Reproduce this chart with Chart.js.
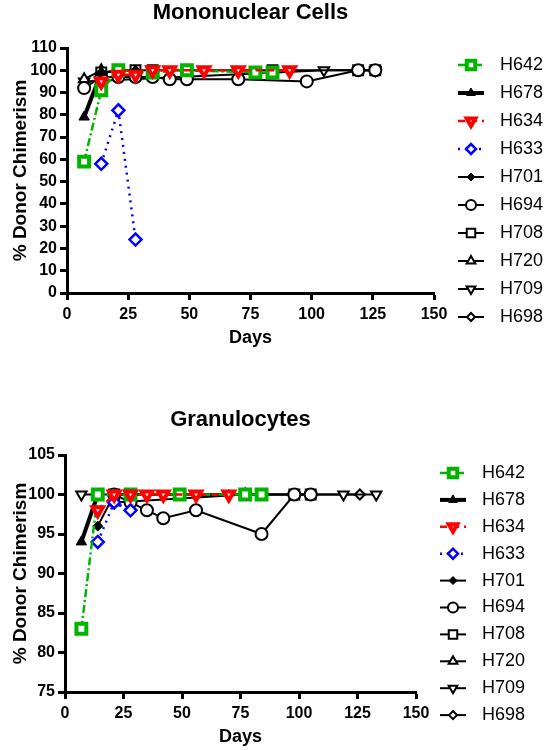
<!DOCTYPE html>
<html>
<head>
<meta charset="utf-8">
<script src="https://cdn.jsdelivr.net/npm/chart.js@4/dist/chart.umd.min.js"></script>
<style>
  body { margin: 0; background: #fff; }
  canvas { display: block; }
</style>
</head>
<body>
<canvas id="mncChart" width="547" height="375"></canvas>
<canvas id="granChart" width="547" height="375"></canvas>
<script>
// Data: each point is [day, % donor chimerism]
const seriesNames = ['H642', 'H678', 'H634', 'H633', 'H701', 'H694', 'H708', 'H720', 'H709', 'H698'];
const xTicks = [0, 25, 50, 75, 100, 125, 150];
const mncYTicks = [0, 10, 20, 30, 40, 50, 60, 70, 80, 90, 100, 110];
const granYTicks = [75, 80, 85, 90, 95, 100, 105];

// Mononuclear cells
const mncH642 = [[7, 59], [14, 91], [21, 100], [35, 99], [49, 100], [77, 99], [84, 99]];
const mncH678 = [[7, 79], [14, 99]];
const mncH634 = [[14, 95], [21, 98], [28, 98], [35, 100], [42, 100], [56, 100], [70, 100], [91, 100]];
const mncH633 = [[14, 58], [21, 82], [28, 24]];
const mncH701 = [[14, 99], [21, 100], [28, 100]];
const mncH694 = [[7, 92], [14, 97], [21, 97], [28, 97], [35, 97], [42, 96], [49, 96], [70, 96], [98, 95], [119, 100], [126, 100]];
const mncH708 = [[14, 99], [28, 100], [35, 100], [49, 100], [84, 100], [119, 100], [126, 100]];
const mncH720 = [[7, 96], [14, 100]];
const mncH709 = [[7, 95], [105, 100], [126, 100]];
const mncH698 = [[119, 100], [126, 100]];

// Granulocytes
const granH642 = [[7, 83], [14, 100], [28, 100], [49, 100], [77, 100], [84, 100]];
const granH678 = [[7, 94], [14, 100]];
const granH634 = [[14, 98], [21, 100], [28, 100], [35, 100], [42, 100], [56, 100], [70, 100]];
const granH633 = [[14, 94], [21, 99], [28, 98]];
const granH701 = [[14, 96], [21, 100], [70, 100]];
const granH694 = [[21, 100], [28, 99], [35, 98], [42, 97], [56, 98], [84, 95], [98, 100], [105, 100]];
const granH708 = [[21, 100], [28, 100], [49, 100], [98, 100], [105, 100]];
const granH720 = [[21, 99], [77, 100]];
const granH709 = [[7, 100], [119, 100], [133, 100]];
const granH698 = [[28, 100], [126, 100]];

const FONT = "'Liberation Sans', Arial, sans-serif";

const seriesStyle = {
  H642: { color: '#00b400', width: 2.5, dash: [8, 3, 2, 3], shape: 'rect', rot: 0, r: 7, bw: 4, fill: '#fff', order: 1 },
  H678: { color: '#000', width: 4, dash: [], shape: 'triangle', rot: 0, r: 6, bw: 1, fill: '#000', order: 3 },
  H634: { color: '#ff0000', width: 2.5, dash: [7, 5], shape: 'triangle', rot: 180, r: 6, bw: 4, fill: '#fff', order: 0 },
  H633: { color: '#0000ff', width: 2.5, dash: [2, 5], shape: 'rectRot', rot: 0, r: 6, bw: 2.5, fill: '#fff', order: 2 },
  H701: { color: '#000', width: 2, dash: [], shape: 'rectRot', rot: 0, r: 5, bw: 1, fill: '#000', order: 4 },
  H694: { color: '#000', width: 2, dash: [], shape: 'circle', rot: 0, r: 6, bw: 2, fill: '#fff', order: 5 },
  H708: { color: '#000', width: 2, dash: [], shape: 'rect', rot: 0, r: 7, bw: 2, fill: '#fff', order: 6 },
  H720: { color: '#000', width: 2, dash: [], shape: 'triangle', rot: 0, r: 6, bw: 2, fill: '#fff', order: 7 },
  H709: { color: '#000', width: 2, dash: [], shape: 'triangle', rot: 180, r: 6, bw: 2, fill: '#fff', order: 8 },
  H698: { color: '#000', width: 2, dash: [], shape: 'rectRot', rot: 0, r: 5, bw: 2, fill: '#fff', order: 9 }
};

function buildDatasets(seriesList) {
  return seriesList.map((pts, i) => {
    const name = seriesNames[i];
    const s = seriesStyle[name];
    return {
      label: name,
      data: pts.map(([x, y]) => ({ x: x, y: y })),
      showLine: true,
      borderColor: s.color,
      backgroundColor: s.color,
      borderWidth: s.width,
      borderDash: s.dash,
      pointStyle: s.shape,
      pointRotation: s.rot,
      pointRadius: s.r,
      pointBorderWidth: s.bw,
      pointBorderColor: s.color,
      pointBackgroundColor: s.fill,
      order: s.order,
      clip: false
    };
  });
}

// draws the chart title and the legend down the right side
const sidePlugin = {
  id: 'side',
  afterDraw(chart, args, opts) {
    const ctx = chart.ctx;
    ctx.save();
    ctx.fillStyle = '#000';
    ctx.font = 'bold 22px ' + FONT;
    ctx.textAlign = 'center';
    ctx.textBaseline = 'middle';
    const a = chart.chartArea;
    ctx.fillText(opts.title, (a.left + a.right) / 2, opts.titleY);

    chart.data.datasets.forEach((ds, i) => {
      const s = seriesStyle[ds.label];
      const y = opts.y0 + i * opts.step;
      ctx.strokeStyle = s.color;
      ctx.lineWidth = s.width;
      ctx.setLineDash(s.dash);
      ctx.beginPath();
      ctx.moveTo(opts.x - 13, y);
      ctx.lineTo(opts.x + 13, y);
      ctx.stroke();
      ctx.setLineDash([]);
      ctx.fillStyle = s.fill;
      ctx.strokeStyle = s.color;
      ctx.lineWidth = s.bw;
      Chart.helpers.drawPoint(ctx, { pointStyle: s.shape, rotation: s.rot, radius: s.r - 1, borderWidth: s.bw }, opts.x, y);
      ctx.fillStyle = '#000';
      ctx.font = '18px ' + FONT;
      ctx.textAlign = 'left';
      ctx.fillText(ds.label, opts.textX, y);
    });
    ctx.restore();
  }
};

function makeChart(id, cfg) {
  const axisGrid = { display: true, drawOnChartArea: false, drawTicks: true, tickLength: 7, tickWidth: 3, tickColor: '#000', color: '#000' };
  const tickFont = { family: FONT, size: 16, weight: 'bold' };
  return new Chart(document.getElementById(id), {
    type: 'scatter',
    data: { datasets: buildDatasets(cfg.series) },
    options: {
      responsive: false,
      animation: false,
      devicePixelRatio: 1,
      layout: { padding: { left: 0, right: cfg.right, top: cfg.top, bottom: 0 } },
      plugins: {
        legend: { display: false },
        tooltip: { enabled: false },
        side: { title: cfg.title, titleY: cfg.titleY, x: cfg.legendX, textX: cfg.legendX + 29, y0: cfg.legendY0, step: cfg.legendStep }
      },
      scales: {
        x: {
          type: 'linear',
          min: 0,
          max: 150,
          afterBuildTicks: (sc) => { sc.ticks = xTicks.map(v => ({ value: v })); },
          afterFit: (sc) => { sc.height = cfg.xHeight; },
          ticks: { color: '#000', font: tickFont, padding: 5, maxRotation: 0 },
          grid: axisGrid,
          border: { display: true, color: '#000', width: 3 },
          title: { display: true, text: 'Days', color: '#000', font: { family: FONT, size: 18, weight: 'bold' }, padding: { top: 0, bottom: cfg.daysPad } }
        },
        y: {
          type: 'linear',
          min: cfg.yTicks[0],
          max: cfg.yTicks[cfg.yTicks.length - 1],
          afterBuildTicks: (sc) => { sc.ticks = cfg.yTicks.map(v => ({ value: v })); },
          afterFit: (sc) => { sc.width = cfg.left; },
          ticks: { color: '#000', font: tickFont, padding: 3 },
          grid: axisGrid,
          border: { display: true, color: '#000', width: 3 },
          title: { display: true, text: '% Donor Chimerism', color: '#000', font: { family: FONT, size: 19, weight: 'bold' }, padding: { top: 9, bottom: 0 } }
        }
      }
    },
    plugins: [sidePlugin]
  });
}

makeChart('mncChart', {
  title: 'Mononuclear Cells',
  series: [mncH642, mncH678, mncH634, mncH633, mncH701, mncH694, mncH708, mncH720, mncH709, mncH698],
  yTicks: mncYTicks,
  left: 67, right: 113, top: 48, xHeight: 82, daysPad: 26,
  titleY: 13, legendX: 471, legendY0: 65, legendStep: 28
});

makeChart('granChart', {
  title: 'Granulocytes',
  series: [granH642, granH678, granH634, granH633, granH701, granH694, granH708, granH720, granH709, granH698],
  yTicks: granYTicks,
  left: 65, right: 131, top: 80, xHeight: 58, daysPad: 2,
  titleY: 45, legendX: 453, legendY0: 98, legendStep: 26.9
});
</script>
</body>
</html>
